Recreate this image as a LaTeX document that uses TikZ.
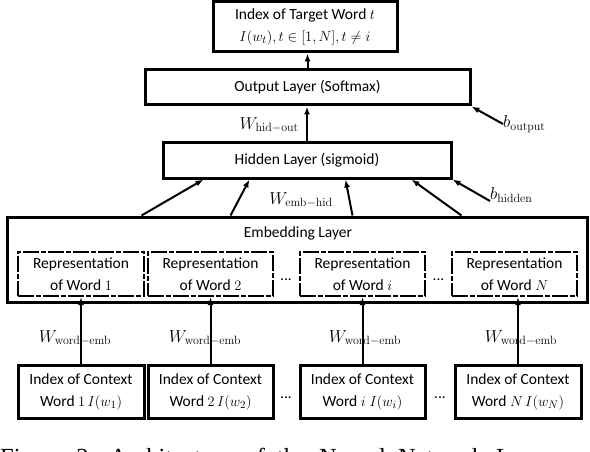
\documentclass[tikz,border=0pt]{standalone}
\usepackage[no-math]{fontspec}
\setmainfont{Carlito}
\newfontfamily\capfont{Liberation Serif}
\usetikzlibrary{arrows.meta,calc}
\begin{document}
\begin{tikzpicture}[x=1pt,y=-1pt,
  box/.style={draw, line width=3pt, inner sep=0pt, align=center},
  repbox/.style={draw, line width=2.2pt, dash pattern=on 16pt off 2pt on 5pt off 2pt, inner sep=0pt, align=center, minimum height=44pt},
  idxbox/.style={box, minimum height=53pt},
  arr/.style={line width=2pt, -{Latex[length=8pt,width=6pt]}},
  lbl/.style={inner sep=0pt},
  wlbl/.style={inner sep=0pt, font=\fontsize{17}{20}\selectfont},
  font=\fontsize{15.5}{22}\selectfont]
\useasboundingbox (0,0) rectangle (590,452);
% top
\node[box, minimum width=184pt, minimum height=50pt] (target) at (305,27) {Index of Target Word $t$\\$I(w_t), t\in[1,N], t\neq i$};
\node[box, minimum width=325pt, minimum height=35pt] (output) at (307.5,87.5) {Output Layer (Softmax)};
\node[box, minimum width=288pt, minimum height=35pt] (hidden) at (307,160.5) {Hidden Layer (sigmoid)};
\node[box, minimum width=580pt, minimum height=85pt] (emb) at (297,259.5) {};
\node[lbl] (embt) at (298,233) {Embedding Layer};
% representation boxes
\node[repbox, minimum width=126pt] (rep1) at (81,274) {Representation\\of Word $1$};
\node[repbox, minimum width=125pt] (rep2) at (210.5,274) {Representation\\of Word $2$};
\node[repbox, minimum width=125pt] (repi) at (362.5,274) {Representation\\of Word $i$};
\node[repbox, minimum width=125pt] (repN) at (514.5,274) {Representation\\of Word $N$};
\node[lbl] (rd1) at (286,280) {...};
\node[lbl] (rd2) at (438.5,280) {...};
% index boxes
\node[idxbox, minimum width=126pt] (idx1) at (81,391.5) {Index of Context\\Word $1\,I(w_1)$};
\node[idxbox, minimum width=125pt] (idx2) at (210.5,391.5) {Index of Context\\Word $2\,I(w_2)$};
\node[idxbox, minimum width=125pt] (idxi) at (362.5,391.5) {Index of Context\\Word $i\;I(w_i)$};
\node[idxbox, minimum width=126pt] (idxN) at (518,391.5) {Index of Context\\Word $N\,I(w_N)$};
\node[lbl] (id1) at (286,398) {...};
\node[lbl] (id2) at (440,398) {...};
% arrows index -> rep
\draw[arr] (idx1.north) -- (idx1.north |- rep1.south);
\draw[arr] (idx2.north) -- (idx2.north |- rep2.south);
\draw[arr] (idxi.north) -- (idxi.north |- repi.south);
\draw[arr] (idxN.north) -- (idxN.north |- repN.south);
\node[wlbl] (w1) at (75,338) {$W_{\mathrm{word-emb}}$};
\node[wlbl] (w2) at (205,338) {$W_{\mathrm{word-emb}}$};
\node[wlbl] (w3) at (365,338) {$W_{\mathrm{word-emb}}$};
\node[wlbl] (w4) at (521,338) {$W_{\mathrm{word-emb}}$};
% emb -> hidden
\draw[arr] ([xshift=136pt]emb.north west) -- ([xshift=42pt]hidden.south west);
\draw[arr] ([xshift=225pt]emb.north west) -- ([xshift=88pt]hidden.south west);
\draw[arr] ([xshift=347pt]emb.north west) -- ([xshift=184pt]hidden.south west);
\draw[arr] ([xshift=456pt]emb.north west) -- ([xshift=250pt]hidden.south west);
\node[wlbl] (wemb) at (301,200) {$W_{\mathrm{emb-hid}}$};
% hidden -> output
\draw[arr] (hidden.north) -- (hidden.north |- output.south);
\node[wlbl, anchor=east] (whid) at (299,125) {$W_{\mathrm{hid-out}}$};
% output -> target
\draw[arr] (output.north) -- (output.north |- target.south);
% biases
\node[wlbl, anchor=west] (bout) at (503,124) {$b_{\mathrm{output}}$};
\draw[arr] (bout.west) -- (output.south east);
\node[wlbl, anchor=west] (bhid) at (490,195) {$b_{\mathrm{hidden}}$};
\draw[arr] ([yshift=-6pt]bhid.west) -- (hidden.south east);
% caption (cut off by the picture's lower edge)
\node[anchor=base west, inner sep=0pt, font=\capfont\fontsize{24.6}{26}\selectfont] (cap) at (0,465) {\spaceskip=12pt\relax Figure 2:\hspace{14pt}Architecture of the Neural Network Language Model};
\end{tikzpicture}
\end{document}
